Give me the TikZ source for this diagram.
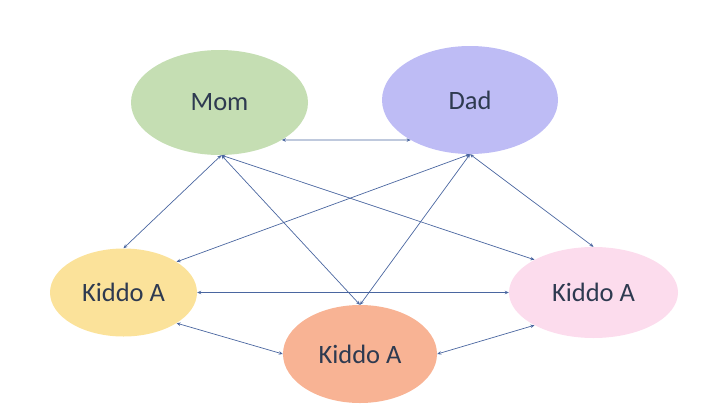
\documentclass[tikz,border=0pt]{standalone}
\usepackage{fontspec}
\setmainfont{Carlito}
\usetikzlibrary{arrows.meta,shapes.geometric}

\definecolor{momgreen}{HTML}{C5DEB3}
\definecolor{dadblue}{HTML}{BEBCF5}
\definecolor{kidyellow}{HTML}{FBE29A}
\definecolor{kidorange}{HTML}{F8B394}
\definecolor{kidpink}{HTML}{FCDCED}
\definecolor{linkblue}{HTML}{4A66A0}
\definecolor{textgray}{HTML}{2E3A50}

\tikzset{
  person/.style={ellipse,inner sep=0pt,text=textgray,font=\fontsize{26.5}{30}\selectfont},
  link/.style={draw=linkblue,line width=0.7pt,{Stealth[length=4pt,width=3.5pt]}-{Stealth[length=4pt,width=3.5pt]}}
}

\begin{document}
\begin{tikzpicture}[x=1pt,y=-1pt]
\useasboundingbox (0,0) rectangle (720,405);
% parents
\node[person,fill=momgreen,minimum width=177pt,minimum height=105pt] (mom) at (219.5,102.5) {Mom};
\node[person,fill=dadblue,minimum width=176pt,minimum height=108pt] (dad) at (470,100) {Dad};
% kids
\node[person,fill=kidyellow,minimum width=147pt,minimum height=88pt] (kidL) at (123.5,292.5) {Kiddo A};
\node[person,fill=kidorange,minimum width=154pt,minimum height=98pt] (kidB) at (360,354) {Kiddo A};
\node[person,fill=kidpink,minimum width=169pt,minimum height=91pt] (kidR) at (593.5,292.5) {Kiddo A};

\draw[link] (mom.-31) -- (dad.-146);
\draw[link] (mom.-88) -- (kidL.north);
\draw[link] (mom.-88) -- (kidB.north);
\draw[link] (mom.-88) -- (kidR.151);
\draw[link] (dad.south) -- (kidL.30);
\draw[link] (dad.south) -- (kidB.north);
\draw[link] (dad.south) -- (kidR.north);
\draw[link] (kidL.east) -- (kidR.west);
\draw[link] (kidL.-30) -- (kidB.west);
\draw[link] (kidB.east) -- (kidR.209);
\end{tikzpicture}
\end{document}
